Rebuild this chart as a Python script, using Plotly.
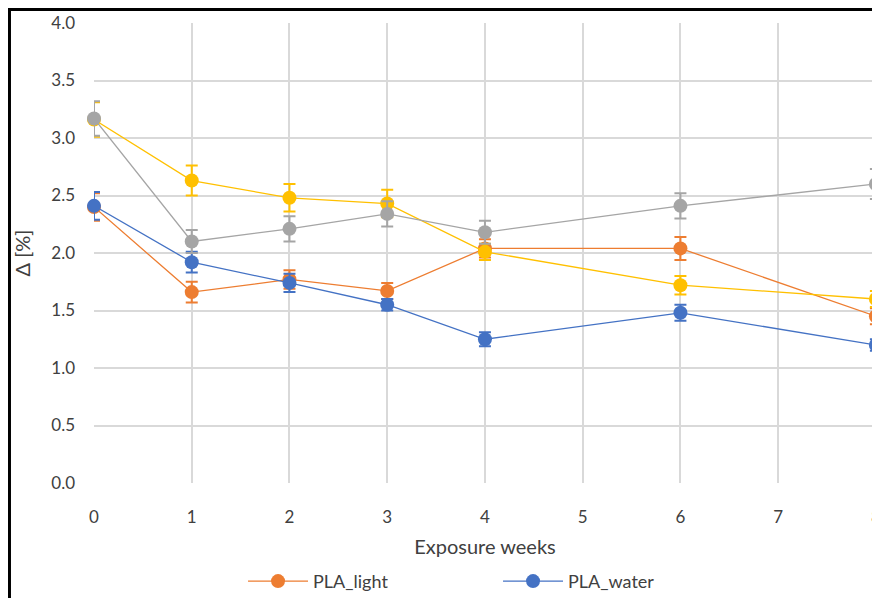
import plotly.graph_objects as go

weeks = [0, 1, 2, 3, 4, 6, 8]

pla_light = [2.40, 1.66, 1.77, 1.67, 2.04, 2.04, 1.45]
pla_light_err = [0.12, 0.09, 0.08, 0.07, 0.08, 0.10, 0.07]

pla_water = [2.41, 1.92, 1.74, 1.55, 1.25, 1.48, 1.20]
pla_water_err = [0.12, 0.09, 0.08, 0.05, 0.06, 0.07, 0.05]

pla_yellow = [3.16, 2.63, 2.48, 2.43, 2.01, 1.72, 1.60]
pla_yellow_err = [0.15, 0.13, 0.12, 0.12, 0.07, 0.08, 0.07]

pla_gray = [3.17, 2.10, 2.21, 2.34, 2.18, 2.41, 2.60]
pla_gray_err = [0.15, 0.10, 0.11, 0.11, 0.10, 0.11, 0.13]

x_ticks = [0, 1, 2, 3, 4, 5, 6, 7, 8]
y_ticks = [0.0, 0.5, 1.0, 1.5, 2.0, 2.5, 3.0, 3.5, 4.0]

series = [
    ("PLA_light", pla_light, pla_light_err, "#ED7D31", True),
    ("PLA_water", pla_water, pla_water_err, "#4472C4", True),
    ("PLA_light_water", pla_yellow, pla_yellow_err, "#FFC000", False),
    ("PLA_ref", pla_gray, pla_gray_err, "#A5A5A5", False),
]

fig = go.Figure()
for name, vals, errs, col, show in series:
    fig.add_trace(go.Scatter(
        x=weeks, y=vals, name=name, mode="lines+markers",
        line=dict(color=col, width=1.3),
        marker=dict(color=col, size=14),
        error_y=dict(type="data", array=errs, visible=True, color=col,
                     thickness=2, width=6),
        showlegend=show, cliponaxis=False,
    ))

# page body has an 8px margin, so figure coords = screen coords - 8
W, H = 872, 590
L, T = 86, 15
R = W - 867.8
B = H - 475.5
pw = W - L - R
ph = H - T - B

def px2paper_x(px):
    return (px - L) / pw

def px2paper_y(py):
    return (H - B - py) / ph

font = "Lato, Open Sans, sans-serif"
fig.update_layout(
    width=W, height=H,
    margin=dict(l=L, r=R, t=T, b=B, autoexpand=False),
    paper_bgcolor="white", plot_bgcolor="white",
    font=dict(family=font, size=17, color="#404040"),
    xaxis=dict(range=[0, 8.001], tickvals=x_ticks, showgrid=True,
               gridcolor="#D9D9D9", gridwidth=1.5, zeroline=False,
               showline=False, ticks="", ticklabelstandoff=22,
               ticklabeloverflow="allow",
               title=dict(text="Exposure weeks", standoff=13,
                          font=dict(size=20))),
    yaxis=dict(range=[0, 4], tickvals=y_ticks, tickformat=".1f",
               showgrid=True, gridcolor="#D9D9D9", gridwidth=1.5,
               zeroline=False, showline=False, ticks="",
               ticklabelstandoff=18,
               title=dict(text="Δ [%]", standoff=15, font=dict(size=20))),
    legend=dict(orientation="h", x=px2paper_x(235), xanchor="left",
                y=px2paper_y(574), yanchor="middle", entrywidth=180,
                entrywidthmode="pixels", itemwidth=60,
                font=dict(size=18)),
    showlegend=True,
)

fig.add_shape(type="rect", xref="paper", yref="paper",
              x0=px2paper_x(1.5), x1=px2paper_x(900),
              y0=px2paper_y(620), y1=px2paper_y(1.5),
              line=dict(color="black", width=3), layer="above")

fig.write_html("out.html")
